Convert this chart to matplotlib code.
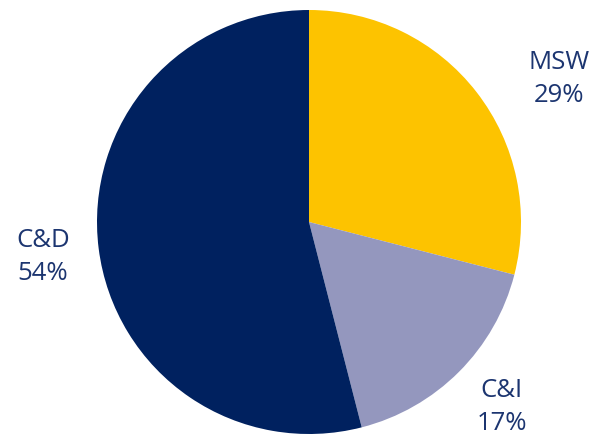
import matplotlib
matplotlib.use("Agg")
import matplotlib.pyplot as plt

# Waste stream shares (%)
categories = ["MSW", "C&I", "C&D"]
shares = [29, 17, 54]
colors = ["#FDC300", "#9497BE", "#00215F"]

text_color = "#1C3570"

W, H = 606, 442
fig = plt.figure(figsize=(W / 100, H / 100), dpi=100)
ax = fig.add_axes([0, 0, 1, 1])

# pie drawn in pixel units so centre / radius match the reference
cx, cy, r = 309, H - 222, 212
ax.pie(shares, colors=colors, startangle=90, counterclock=False,
       center=(cx, cy), radius=r, wedgeprops=dict(linewidth=0))

ax.set_xlim(0, W)
ax.set_ylim(0, H)
ax.set_aspect("equal")
ax.axis("off")

# label anchor points (pixels from top-left)
label_pos = {"MSW": (559, 79), "C&I": (502, 407), "C&D": (43, 257)}
for name, val in zip(categories, shares):
    x, y = label_pos[name]
    ax.text(x, H - y, f"{name}\n{val}%", ha="center", va="center",
            fontsize=18.5, color=text_color, family="Open Sans",
            linespacing=1.4)

fig.savefig("out.png", dpi=100)
